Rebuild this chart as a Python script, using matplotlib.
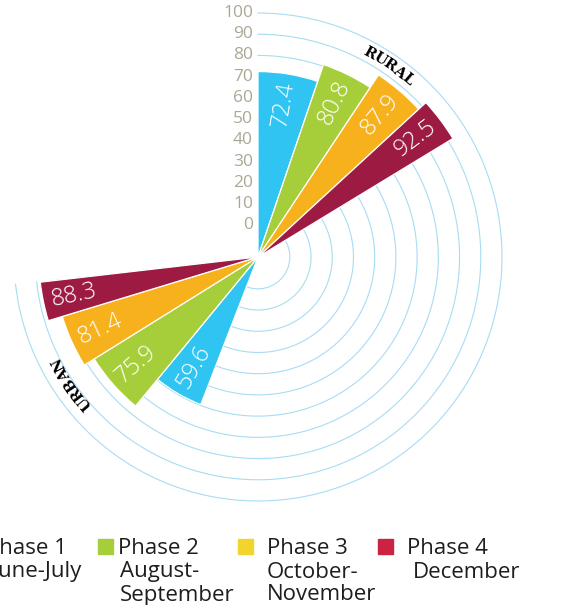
"""Seasonal phase shares, rural vs urban, as a half-open radial bar chart."""

import matplotlib.pyplot as plt
import numpy as np
from matplotlib.patches import Rectangle
from matplotlib.transforms import offset_copy

# data
groups = ["RURAL", "URBAN"]
phases = ["Phase 1", "Phase 2", "Phase 3", "Phase 4"]
periods = [["June-July"], ["August-", "September"], ["October-", "November"], ["December"]]
rural = [72.4, 80.8, 87.9, 92.5]
urban = [59.6, 75.9, 81.4, 88.3]
ticks = list(range(0, 101, 10))

# styling
bar_colors = ["#2fc4f2", "#a6cd3a", "#f6b11d", "#9d1b43"]
legend_colors = ["#2fc4f2", "#a6cd3a", "#f2d42c", "#cc2343"]
ring_color = "#a8dcf4"
tick_color = "#aca794"
FONT = "Open Sans"

# angular edges (deg) of each wedge, phase 1..4
rural_edges = [(71.2, 90.0), (56.5, 71.2), (42.6, 56.5), (31.3, 42.6)]
urban_edges = [(230.6, 248.8), (211.9, 230.6), (196.9, 211.9), (186.6, 196.9)]
R0 = -15  # radial value at the centre

W, H = 564, 605
fig = plt.figure(figsize=(W / 100, H / 100), dpi=100)
ax = fig.add_axes([14 / W, 1 - 501 / H, 488 / W, 488 / H], projection="polar")
ax.set_ylim(R0, 100)
ax.set_xticks([])
ax.set_yticks([])
ax.grid(False)
ax.spines["polar"].set_visible(False)
ax.patch.set_alpha(0)

# rings, open over the upper-left quadrant
arc = np.radians(np.linspace(186.4, 450, 400))
for t in ticks:
    ax.plot(arc, np.full_like(arc, t), color=ring_color, lw=0.8, zorder=1, clip_on=False)

# radial scale labels along the vertical
tick_tr = offset_copy(ax.transData, fig=fig, x=-5, y=0, units="dots")
for t in ticks:
    ax.text(np.pi / 2, t, str(t), transform=tick_tr, ha="right", va="center",
            fontsize=12.5, color=tick_color, family=FONT)


def draw_group(values, edges, flip):
    for v, (a0, a1), c in zip(values, edges, bar_colors):
        mid = (a0 + a1) / 2
        ax.bar(np.radians(mid), v - R0, width=np.radians(a1 - a0), bottom=R0,
               color=c, edgecolor="white", linewidth=0.9, zorder=3)
        rot = mid - 180 if flip else mid
        ax.text(np.radians(mid), v - 14.5, f"{v:.1f}", rotation=rot,
                rotation_mode="anchor", ha="center", va="center",
                fontsize=17, fontweight="light", color="white", family=FONT, zorder=4)


draw_group(rural, rural_edges, flip=False)
draw_group(urban, urban_edges, flip=True)


def curved_label(text, r, start, step):
    # letters run clockwise, tops facing outward
    for i, ch in enumerate(text):
        a = start - i * step
        ax.text(np.radians(a), r, ch, rotation=a - 90, rotation_mode="anchor",
                ha="center", va="center", fontsize=10.5, fontweight="bold",
                family="DejaVu Serif", color="black", zorder=5)


curved_label(groups[0], 94.5, 61.2, 2.85)
curved_label(groups[1], 91.5, 220.0, 2.95)

# legend
sq_x = [-45, 98, 238, 378]
name_x = [-14, 118, 267, 407]
period_x = [-7, 120, 267, 413]
rows = [548, 572, 595]
for i, ph in enumerate(phases):
    fig.patches.append(Rectangle((sq_x[i] / W, 1 - 554 / H), 15 / W, 15 / H,
                                 transform=fig.transFigure, color=legend_colors[i]))
    fig.text(name_x[i] / W, 1 - rows[0] / H, ph, ha="left", va="center",
             fontsize=16, color="#1e1e1e", family=FONT)
    for j, line in enumerate(periods[i]):
        fig.text(period_x[i] / W, 1 - rows[j + 1] / H, line, ha="left", va="center",
                 fontsize=16, color="#1e1e1e", family=FONT)

fig.savefig("out.png", dpi=100)
